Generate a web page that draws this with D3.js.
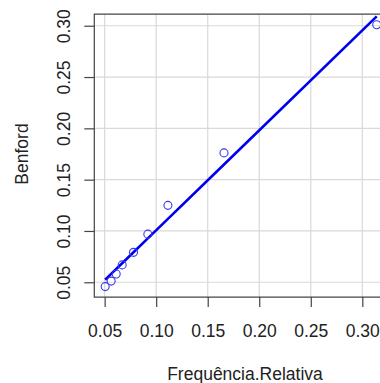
<!DOCTYPE html>
<html>
<head>
<meta charset="utf-8">
<script src="https://cdn.jsdelivr.net/npm/d3@7"></script>
<style>
  html, body { margin: 0; padding: 0; background: #fff; }
  svg { display: block; }
  text { font-family: "Liberation Sans", Arial, sans-serif; fill: #222; }
</style>
</head>
<body>
<svg id="chart" width="380" height="383"></svg>
<script>
// Leading-digit proportions: observed relative frequency vs. Benford's law
const digits = [1, 2, 3, 4, 5, 6, 7, 8, 9];
const freqRelativa = [0.314, 0.1658, 0.1114, 0.0919, 0.0780, 0.0670, 0.0612, 0.0563, 0.0505];
const benford = [0.30103, 0.17609, 0.12494, 0.09691, 0.07918, 0.06695, 0.05799, 0.05115, 0.04576];
const xTicks = [0.05, 0.10, 0.15, 0.20, 0.25, 0.30];
const yTicks = [0.05, 0.10, 0.15, 0.20, 0.25, 0.30];

const svg = d3.select("#chart");
const plotLeft = 94.3, plotTop = 14.2, plotRight = 387.6, plotBottom = 297.1;

// Axis limits padded by 4% of the data range on each side
function padded(vals) {
  const [a, b] = d3.extent(vals);
  const p = (b - a) * 0.04;
  return [a - p, b + p];
}
const x = d3.scaleLinear().domain(padded(freqRelativa)).range([plotLeft, plotRight]);
const y = d3.scaleLinear().domain(padded(benford)).range([plotBottom, plotTop]);

// Grid
const grid = svg.append("g").attr("stroke", "#d9d9d9").attr("stroke-width", 1.2);
grid.selectAll(".gx").data(xTicks).join("line")
  .attr("x1", d => x(d)).attr("x2", d => x(d))
  .attr("y1", plotTop).attr("y2", plotBottom);
grid.selectAll(".gy").data(yTicks).join("line")
  .attr("x1", plotLeft).attr("x2", plotRight)
  .attr("y1", d => y(d)).attr("y2", d => y(d));

// Least-squares fit of benford on freqRelativa
const mx = d3.mean(freqRelativa), my = d3.mean(benford);
let sxy = 0, sxx = 0;
freqRelativa.forEach((v, i) => { sxy += (v - mx) * (benford[i] - my); sxx += (v - mx) * (v - mx); });
const slope = sxy / sxx, intercept = my - slope * mx;
const fitted = freqRelativa.map(v => [v, intercept + slope * v]).sort((a, b) => a[0] - b[0]);

svg.append("path")
  .datum(fitted)
  .attr("fill", "none")
  .attr("stroke", "#0000ee")
  .attr("stroke-width", 2.6)
  .attr("d", d3.line().x(d => x(d[0])).y(d => y(d[1])));

// Points
svg.append("g").selectAll("circle").data(digits).join("circle")
  .attr("cx", (d, i) => x(freqRelativa[i]))
  .attr("cy", (d, i) => y(benford[i]))
  .attr("r", 4)
  .attr("fill", "none")
  .attr("stroke", "#3a3ae8")
  .attr("stroke-width", 1.1);

// Box
svg.append("path")
  .attr("d", `M${plotRight},${plotTop}H${plotLeft}V${plotBottom}H${plotRight}`)
  .attr("fill", "none").attr("stroke", "#444").attr("stroke-width", 1.2);

// X axis
const xAxis = svg.append("g").attr("transform", `translate(0,${plotBottom})`)
  .call(d3.axisBottom(x).tickValues(xTicks).tickFormat(d3.format(".2f")).tickSize(10).tickSizeOuter(0));
xAxis.select(".domain").remove();
xAxis.selectAll(".tick line").attr("stroke", "#444").attr("stroke-width", 1.2);
xAxis.selectAll(".tick text").attr("y", 0).attr("dy", 0)
  .attr("transform", "translate(0,39.5)")
  .style("font-size", "17.5px").style("font-family", "Liberation Sans, Arial, sans-serif").attr("fill", "#222");

// Y axis
const yAxis = svg.append("g").attr("transform", `translate(${plotLeft},0)`)
  .call(d3.axisLeft(y).tickValues(yTicks).tickFormat(d3.format(".2f")).tickSize(10).tickSizeOuter(0));
yAxis.select(".domain").remove();
yAxis.selectAll(".tick line").attr("stroke", "#444").attr("stroke-width", 1.2);
yAxis.selectAll(".tick text")
  .attr("x", 0).attr("y", 0).attr("dy", 0)
  .attr("text-anchor", "middle")
  .attr("transform", "translate(-24,0) rotate(-90)")
  .style("font-size", "17.5px").style("font-family", "Liberation Sans, Arial, sans-serif").attr("fill", "#222");

// Axis titles
svg.append("text")
  .attr("x", 245).attr("y", 380)
  .attr("text-anchor", "middle")
  .style("font-size", "17.5px")
  .text("Frequência.Relativa");
svg.append("text")
  .attr("transform", `translate(28,154) rotate(-90)`)
  .attr("text-anchor", "middle")
  .style("font-size", "17.5px")
  .text("Benford");
</script>
</body>
</html>
